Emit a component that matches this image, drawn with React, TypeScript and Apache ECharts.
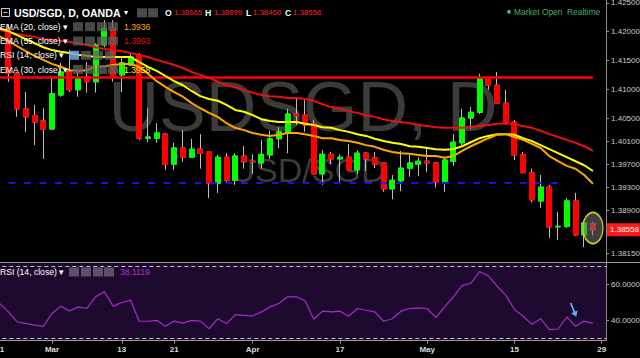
import React, { useEffect, useRef } from 'react';
import * as echarts from 'echarts';

// Trading days (first one only partly visible, last one is an empty slot)
const dates: string[] = [
  '2017-02-21', '2017-02-22', '2017-02-23', '2017-02-24', '2017-02-27', '2017-02-28',
  '2017-03-01', '2017-03-02', '2017-03-03', '2017-03-06', '2017-03-07', '2017-03-08',
  '2017-03-09', '2017-03-10', '2017-03-13', '2017-03-14', '2017-03-15', '2017-03-16',
  '2017-03-17', '2017-03-20', '2017-03-21', '2017-03-22', '2017-03-23', '2017-03-24',
  '2017-03-27', '2017-03-28', '2017-03-29', '2017-03-30', '2017-03-31', '2017-04-03',
  '2017-04-04', '2017-04-05', '2017-04-06', '2017-04-07', '2017-04-10', '2017-04-11',
  '2017-04-12', '2017-04-13', '2017-04-14', '2017-04-17', '2017-04-18', '2017-04-19',
  '2017-04-20', '2017-04-21', '2017-04-24', '2017-04-25', '2017-04-26', '2017-04-27',
  '2017-04-28', '2017-05-01', '2017-05-02', '2017-05-03', '2017-05-04', '2017-05-05',
  '2017-05-08', '2017-05-09', '2017-05-10', '2017-05-11', '2017-05-12', '2017-05-15',
  '2017-05-16', '2017-05-17', '2017-05-18', '2017-05-19', '2017-05-22', '2017-05-23',
  '2017-05-24', '2017-05-25', '2017-05-26', '2017-05-29',
];

// [open, close, low, high] from 2017-02-22 to 2017-05-26
const candles: number[][] = [
  [1.4206, 1.4128, 1.4113, 1.4213], [1.4128, 1.4066, 1.4052, 1.4130], [1.4066, 1.4052, 1.4026, 1.4095],
  [1.4054, 1.4043, 1.4003, 1.4073], [1.4045, 1.4031, 1.3979, 1.4067], [1.4031, 1.4092, 1.4029, 1.4120],
  [1.4090, 1.4130, 1.4087, 1.4146], [1.4130, 1.4099, 1.4095, 1.4168], [1.4099, 1.4120, 1.4087, 1.4133],
  [1.4121, 1.4113, 1.4094, 1.4147], [1.4113, 1.4177, 1.4094, 1.4180], [1.4177, 1.4206, 1.4173, 1.4220],
  [1.4206, 1.4121, 1.4113, 1.4220], [1.4125, 1.4146, 1.4095, 1.4154], [1.4142, 1.4156, 1.4140, 1.4161],
  [1.4158, 1.4015, 1.4012, 1.4163], [1.4015, 1.4017, 1.4008, 1.4067], [1.4015, 1.4024, 1.4007, 1.4041],
  [1.4022, 1.3970, 1.3960, 1.4024], [1.3970, 1.3998, 1.3960, 1.4007], [1.3998, 1.3982, 1.3974, 1.4029],
  [1.3982, 1.3996, 1.3981, 1.4014], [1.3996, 1.3989, 1.3962, 1.4022], [1.3991, 1.3937, 1.3911, 1.3991],
  [1.3937, 1.3982, 1.3920, 1.3986], [1.3982, 1.3942, 1.3937, 1.3989], [1.3942, 1.3984, 1.3934, 1.3989],
  [1.3984, 1.3974, 1.3962, 1.4001], [1.3975, 1.3974, 1.3953, 1.3987], [1.3972, 1.3987, 1.3962, 1.4012],
  [1.3986, 1.4014, 1.3979, 1.4028], [1.4014, 1.4026, 1.3998, 1.4034], [1.4024, 1.4057, 1.3989, 1.4066],
  [1.4057, 1.4054, 1.4038, 1.4085], [1.4055, 1.4038, 1.4026, 1.4081], [1.4040, 1.3953, 1.3953, 1.4047],
  [1.3953, 1.3987, 1.3934, 1.3994], [1.3987, 1.3979, 1.3970, 1.3991], [1.3979, 1.3982, 1.3935, 1.3987],
  [1.3982, 1.3960, 1.3960, 1.4005], [1.3960, 1.3989, 1.3953, 1.3994], [1.3989, 1.3979, 1.3958, 1.3991],
  [1.3981, 1.3970, 1.3963, 1.3991], [1.3972, 1.3927, 1.3922, 1.3972], [1.3927, 1.3942, 1.3909, 1.3951],
  [1.3941, 1.3963, 1.3923, 1.3993], [1.3963, 1.3972, 1.3948, 1.3989], [1.3970, 1.3975, 1.3949, 1.3982],
  [1.3975, 1.3972, 1.3956, 1.3998], [1.3972, 1.3939, 1.3929, 1.3974], [1.3939, 1.3977, 1.3922, 1.3981],
  [1.3975, 1.4008, 1.3967, 1.4022], [1.4007, 1.4050, 1.4003, 1.4066], [1.4050, 1.4060, 1.4031, 1.4069],
  [1.4060, 1.4118, 1.4057, 1.4127], [1.4118, 1.4107, 1.4099, 1.4120], [1.4107, 1.4076, 1.4076, 1.4130],
  [1.4076, 1.4043, 1.4038, 1.4099], [1.4043, 1.3986, 1.3977, 1.4047], [1.3986, 1.3955, 1.3955, 1.3991],
  [1.3955, 1.3908, 1.3903, 1.3962], [1.3906, 1.3930, 1.3894, 1.3951], [1.3930, 1.3861, 1.3842, 1.3934],
  [1.3861, 1.3862, 1.3838, 1.3887], [1.3862, 1.3906, 1.3859, 1.3911], [1.3906, 1.3847, 1.3845, 1.3920],
  [1.3847, 1.3868, 1.3826, 1.3873], [1.38665, 1.38558, 1.38460, 1.38699],
];

// indicators from 2017-02-21 to 2017-05-26
const ema20: number[] = [
  1.4192, 1.4184, 1.4175, 1.4166, 1.4158, 1.4151, 1.4144, 1.4139, 1.4133, 1.4132, 1.4133,
  1.4139, 1.4140, 1.4142, 1.4144, 1.4144, 1.4139, 1.4127, 1.4114, 1.4104, 1.4095,
  1.4087, 1.4076, 1.4067, 1.4059, 1.4052, 1.4041, 1.4033, 1.4029, 1.4024, 1.4021,
  1.4019, 1.4021, 1.4024, 1.4024, 1.4022, 1.4019, 1.4015, 1.4015, 1.4012, 1.4010,
  1.4007, 1.4003, 1.4000, 1.3995, 1.3991, 1.3989, 1.3988, 1.3986, 1.3984, 1.3984,
  1.3981, 1.3984, 1.3993, 1.4001, 1.4008, 1.4015, 1.4021, 1.4022, 1.4017, 1.4012,
  1.4005, 1.3998, 1.3984, 1.3975, 1.3967, 1.3962, 1.3951, 1.3936,
];
const ema30: number[] = [
  1.4206, 1.4201, 1.4194, 1.4187, 1.4180, 1.4173, 1.4168, 1.4165, 1.4163, 1.4160, 1.4158,
  1.4156, 1.4156, 1.4156, 1.4156, 1.4156, 1.4147, 1.4139, 1.4132, 1.4123, 1.4114,
  1.4107, 1.4097, 1.4088, 1.4083, 1.4080, 1.4073, 1.4064, 1.4061, 1.4055, 1.4048,
  1.4045, 1.4043, 1.4043, 1.4043, 1.4040, 1.4038, 1.4034, 1.4033, 1.4029, 1.4026,
  1.4022, 1.4019, 1.4014, 1.4010, 1.4007, 1.4005, 1.4001, 1.4000, 1.3998, 1.3996,
  1.3995, 1.3996, 1.4001, 1.4008, 1.4015, 1.4019, 1.4022, 1.4022, 1.4021, 1.4015,
  1.4010, 1.4003, 1.3996, 1.3989, 1.3982, 1.3975, 1.3968, 1.3958,
];
const ema55: number[] = [
  1.4203, 1.4199, 1.4196, 1.4193, 1.4191, 1.4187, 1.4186, 1.4184, 1.4182, 1.4180, 1.4177,
  1.4173, 1.4170, 1.4168, 1.4166, 1.4163, 1.4160, 1.4156, 1.4151, 1.4147, 1.4142,
  1.4137, 1.4130, 1.4125, 1.4120, 1.4113, 1.4107, 1.4104, 1.4099, 1.4094, 1.4090,
  1.4088, 1.4087, 1.4085, 1.4085, 1.4083, 1.4080, 1.4074, 1.4069, 1.4066, 1.4062,
  1.4059, 1.4055, 1.4052, 1.4048, 1.4045, 1.4043, 1.4041, 1.4038, 1.4036, 1.4034,
  1.4033, 1.4033, 1.4033, 1.4034, 1.4036, 1.4038, 1.4040, 1.4041, 1.4040, 1.4036,
  1.4033, 1.4028, 1.4022, 1.4017, 1.4012, 1.4007, 1.4001, 1.3993,
];
const rsi14: number[] = [
  49.2, 44.5, 38.9, 38.1, 37.2, 36.5, 43.6, 47.7, 45.0, 47.3, 46.4,
  52.9, 55.7, 47.7, 49.7, 51.0, 39.3, 39.3, 39.8, 36.5, 39.4,
  38.3, 39.8, 39.4, 35.1, 40.7, 38.0, 43.0, 42.6, 42.2, 44.5,
  47.3, 49.2, 52.9, 52.9, 50.7, 40.4, 44.9, 44.5, 44.9, 42.1,
  46.4, 45.4, 44.5, 39.3, 40.7, 44.9, 46.4, 46.7, 46.4, 41.3,
  47.3, 52.9, 59.1, 60.4, 66.9, 64.5, 58.9, 53.8, 45.8, 42.1,
  37.6, 40.7, 34.6, 35.0, 41.7, 36.5, 39.4, 38.1119,
];

const xTickLabels: [string, string][] = [
  ['2017-02-21', '21'], ['2017-03-01', 'Mar'], ['2017-03-13', '13'], ['2017-03-21', '21'],
  ['2017-04-03', 'Apr'], ['2017-04-17', '17'], ['2017-05-01', 'May'], ['2017-05-15', '15'],
  ['2017-05-29', '29'],
];
const priceTicks: number[] = [1.425, 1.42, 1.415, 1.41, 1.405, 1.401, 1.397, 1.393, 1.389, 1.3815];
const rsiTicks: number[] = [40, 60];
const rsiBands: number[] = [70, 30];
const resistanceLevel = 1.412;
const supportLevel = 1.3938;
const resistanceSpan: [string, string] = ['2017-02-21', '2017-05-26'];
const supportSpan: [string, string] = ['2017-02-22', '2017-05-23'];

const FONT = "'Liberation Sans', Arial, sans-serif";
const UP = '#00ff00';
const DOWN = '#ff0000';

function txt(x: number, y: number, text: string, fill: string, size: number, weight = 'normal', z = 100): any {
  return {
    type: 'text', x, y, z, silent: true,
    style: { text, fill, fontSize: size, fontWeight: weight, fontFamily: FONT, verticalAlign: 'middle', align: 'left' },
  };
}
function iconBox(x: number, y: number, fill = 'rgba(95,95,95,0.8)'): any {
  return { type: 'rect', z: 100, silent: true, shape: { x, y, width: 10, height: 9 }, style: { fill } };
}

export default function App() {
  const ref = useRef<HTMLDivElement>(null);
  useEffect(() => {
    if (!ref.current) return;
    const chart = echarts.init(ref.current, undefined, { renderer: 'svg' });
    const labelMap = new Map(xTickLabels);
    const candleData = dates.map((d, i) => (i >= 1 && i <= candles.length ? candles[i - 1] : '-'));
    const bodyData = dates.map((d, i) => {
      if (i < 1 || i > candles.length) return '-';
      const [o, c] = candles[i - 1];
      return [o, c, Math.min(o, c), Math.max(o, c)];
    });
    const last = candles[candles.length - 1];
    const lastDate = dates[candles.length];
    const f5 = (v: number) => v.toFixed(5);

    const legendRows: any[] = [];
    const rowY = [26.7, 41, 55.3, 69.5];
    const rows = [
      { name: 'EMA (20, close)', value: ema20[ema20.length - 1].toFixed(4), color: '#ffa500' },
      { name: 'EMA (55, close)', value: ema55[ema55.length - 1].toFixed(4), color: '#e81010' },
      { name: 'RSI (14, close)', value: '', color: '' },
      { name: 'EMA (30, close)', value: ema30[ema30.length - 1].toFixed(4), color: '#ffff00' },
    ];
    rows.forEach((r, k) => {
      const y = rowY[k];
      legendRows.push(txt(0, y, r.name + ' \u25BE', '#ffffff', 8.6));
      const xs = k === 2 ? [69, 81, 93, 105] : [73, 85, 97, 108];
      xs.forEach((x, j) => legendRows.push(iconBox(x, y - 4.5, k === 2 && j === 0 ? 'rgba(110,170,230,0.85)' : 'rgba(95,95,95,0.75)')));
      if (r.value) legendRows.push(txt(124, y, r.value, r.color, 8.6));
    });

    const option: any = {
      animation: false,
      backgroundColor: '#000000',
      textStyle: { fontFamily: FONT },
      grid: [
        { left: -4.7, width: 610.75, top: 0, height: 262, outerBoundsMode: 'none', containLabel: false },
        {
          left: -4.7, width: 610.75, top: 263.3, height: 77.4, outerBoundsMode: 'none', containLabel: false,
          show: true, backgroundColor: '#1f0a2f', borderWidth: 0,
        },
      ],
      xAxis: [
        { type: 'category', gridIndex: 0, data: dates, show: false, boundaryGap: true },
        {
          type: 'category', gridIndex: 1, data: dates, boundaryGap: true,
          axisLine: { show: true, lineStyle: { color: '#9a9a9a' } },
          axisTick: { show: true, alignWithLabel: true, length: 3, interval: (i: number, v: string) => labelMap.has(v), lineStyle: { color: '#9a9a9a' } },
          axisLabel: {
            interval: (i: number, v: string) => labelMap.has(v),
            formatter: (v: string) => labelMap.get(v) || '',
            color: '#dddddd', fontSize: 8, fontWeight: 'bold', margin: 5, fontFamily: FONT,
            hideOverlap: false,
          },
          splitLine: { show: false },
        },
      ],
      yAxis: [
        {
          type: 'value', gridIndex: 0, position: 'right', min: 1.38, max: 1.4255, scale: true,
          axisLine: { show: true, lineStyle: { color: '#8a8a8a' } },
          axisTick: { show: true, length: 3, customValues: priceTicks, lineStyle: { color: '#8a8a8a' } },
          axisLabel: { customValues: priceTicks, formatter: (v: number) => v.toFixed(5), color: '#cccccc', fontSize: 8, margin: 5, fontFamily: FONT },
          splitLine: { show: false },
        },
        {
          type: 'value', gridIndex: 1, position: 'right', min: 28.5, max: 71.5,
          axisLine: { show: true, lineStyle: { color: '#8a8a8a' } },
          axisTick: { show: true, length: 3, customValues: rsiTicks, lineStyle: { color: '#8a8a8a' } },
          axisLabel: { customValues: rsiTicks, formatter: (v: number) => v.toFixed(4), color: '#cccccc', fontSize: 8, margin: 5, fontFamily: FONT },
          splitLine: { show: false },
        },
        {
          // current price tag on the price scale
          type: 'value', gridIndex: 0, position: 'right', min: 1.38, max: 1.4255, scale: true,
          axisLine: { show: false }, axisTick: { show: false }, splitLine: { show: false },
          axisLabel: {
            customValues: [last[1]], formatter: (v: number) => v.toFixed(5),
            backgroundColor: '#ff1a1a', color: '#ffffff', fontSize: 8, margin: 1, padding: [3, 3, 2, 3], fontFamily: FONT,
          },
        },
      ],
      series: [
        {
          name: 'wicks', type: 'candlestick', xAxisIndex: 0, yAxisIndex: 0, data: candleData, barWidth: 5.5,
          itemStyle: { color: 'transparent', color0: 'transparent', borderColor: '#bdbdbd', borderColor0: '#bdbdbd', borderWidth: 1 },
          silent: true, z: 3,
        },
        {
          name: 'USD/SGD', type: 'candlestick', xAxisIndex: 0, yAxisIndex: 0, data: bodyData, barWidth: 5.5,
          itemStyle: { color: UP, color0: DOWN, borderColor: UP, borderColor0: DOWN, borderWidth: 1 },
          silent: true, z: 4,
          markLine: {
            silent: true, symbol: 'none', animation: false,
            data: [
              [
                { coord: [resistanceSpan[0], resistanceLevel], lineStyle: { color: '#ff0000', width: 2.6, type: 'solid' }, label: { show: false } },
                { coord: [resistanceSpan[1], resistanceLevel] },
              ],
              [
                { coord: [supportSpan[0], supportLevel], lineStyle: { color: '#1414e6', width: 2, type: [7, 8.5] }, label: { show: false } },
                { coord: [supportSpan[1], supportLevel] },
              ],
            ],
          },
          markPoint: {
            silent: true, animation: false,
            data: [{
              coord: [lastDate, 1.3859], symbol: 'circle', symbolSize: [20, 31],
              itemStyle: { color: 'rgba(115,115,115,0.55)', borderColor: '#d8cc20', borderWidth: 1.5 },
              label: { show: false },
            }],
          },
        },
        { name: 'EMA 55', type: 'line', data: ema55, showSymbol: false, symbol: 'none', lineStyle: { color: '#e81010', width: 2 }, z: 5, silent: true },
        { name: 'EMA 30', type: 'line', data: ema30, showSymbol: false, symbol: 'none', lineStyle: { color: '#ffff00', width: 2 }, z: 5, silent: true },
        { name: 'EMA 20', type: 'line', data: ema20, showSymbol: false, symbol: 'none', lineStyle: { color: '#ffa500', width: 2 }, z: 5, silent: true },
        {
          name: 'RSI 14', type: 'line', xAxisIndex: 1, yAxisIndex: 1, data: rsi14, showSymbol: false, symbol: 'none',
          lineStyle: { color: '#a62cc8', width: 1.2 }, z: 5, silent: true,
          markLine: {
            silent: true, symbol: 'none', animation: false,
            lineStyle: { color: 'rgba(225,225,225,0.85)', width: 1, type: [4, 3] },
            label: { show: false },
            data: rsiBands.map((v) => ({ yAxis: v })),
          },
          markPoint: {
            silent: true, animation: false,
            data: [{
              coord: ['2017-05-24', 45.6], symbol: 'path://M3,0L5,0L5,9L8,9L4,14L0,9L3,9Z', symbolSize: [7, 15],
              symbolRotate: 22, symbolOffset: [-2, 0],
              itemStyle: { color: '#5ab0f0' }, label: { show: false },
            }],
          },
        },
      ],
      graphic: [
        // watermark
        { type: 'text', x: 303, y: 107, z: 1, silent: true, style: { text: 'USDSGD, D', fill: '#3d3b39', fontSize: 70, fontFamily: FONT, align: 'center', verticalAlign: 'middle' } },
        { type: 'text', x: 308, y: 170, z: 1, silent: true, style: { text: 'USD/SGD', fill: '#3d3b39', fontSize: 34, fontFamily: FONT, align: 'center', verticalAlign: 'middle' } },
        // separator between panes
        { type: 'line', z: 100, silent: true, shape: { x1: 0, y1: 262.5, x2: 640, y2: 262.5 }, style: { stroke: '#9a9a9a', lineWidth: 1 } },
        // header
        { type: 'rect', z: 100, silent: true, shape: { x: 1.5, y: 8.5, width: 8, height: 8 }, style: { fill: 'none', stroke: '#cccccc', lineWidth: 1 } },
        { type: 'line', z: 100, silent: true, shape: { x1: 3.5, y1: 12.5, x2: 7.5, y2: 12.5 }, style: { stroke: '#cccccc', lineWidth: 1 } },
        txt(14, 12.7, 'USD/SGD, D, OANDA', '#ffffff', 10.6, 'bold'),
        txt(124, 12.7, '\u25BE', '#ffffff', 8),
        iconBox(137, 8.3), iconBox(148, 8.3),
        txt(165, 12.7, 'O', '#ffffff', 8.6, 'bold'), txt(174, 12.7, f5(last[0]), '#ff2020', 7.8),
        txt(205, 12.7, 'H', '#ffffff', 8.6, 'bold'), txt(214, 12.7, f5(last[3]), '#ff2020', 7.8),
        txt(246, 12.7, 'L', '#ffffff', 8.6, 'bold'), txt(253, 12.7, f5(last[2]), '#ff2020', 7.8),
        txt(285, 12.7, 'C', '#ffffff', 8.6, 'bold'), txt(293, 12.7, f5(last[1]), '#ff2020', 7.8),
        { type: 'circle', z: 100, silent: true, shape: { cx: 509, cy: 11.7, r: 2 }, style: { fill: '#3bb273' } },
        txt(514, 11.7, 'Market Open  Realtime', '#3bb273', 8.4),
        ...legendRows,
        // RSI pane legend
        txt(0, 271.7, 'RSI (14, close) \u25BE', '#ffffff', 8.6),
        iconBox(69, 267.5, 'rgba(120,110,130,0.7)'), iconBox(81, 267.5, 'rgba(120,110,130,0.7)'),
        iconBox(93, 267.5, 'rgba(120,110,130,0.7)'), iconBox(104, 267.5, 'rgba(120,110,130,0.7)'),
        txt(120, 271.7, rsi14[rsi14.length - 1].toFixed(4), '#b030d0', 8.6),
      ],
    };
    chart.setOption(option);
    return () => chart.dispose();
  }, []);
  return <div ref={ref} style={{ position: 'fixed', left: 0, top: 0, width: 640, height: 358 }} />;
}
